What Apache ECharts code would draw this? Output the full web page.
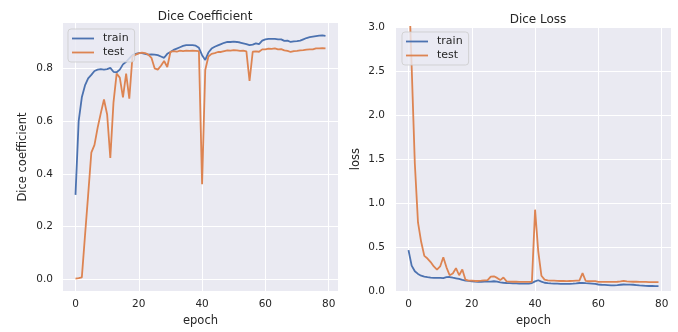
<!DOCTYPE html>
<html>
<head>
<meta charset="utf-8">
<script src="https://cdn.jsdelivr.net/npm/echarts@6/dist/echarts.min.js"></script>
<style>html,body{margin:0;padding:0;background:#fff}#c{width:678px;height:332px}</style>
</head>
<body>
<div id="c"></div>
<script>
// ---- data ----
const epochs = Array.from({length: 80}, (_, i) => i);
const xTicks = [0, 20, 40, 60, 80];
const diceTicks = [0, 0.2, 0.4, 0.6, 0.8];
const lossTicks = [0, 0.5, 1.0, 1.5, 2.0, 2.5, 3.0];
const seriesNames = ['train', 'test'];
const titles = ['Dice Coefficient', 'Dice Loss'];

const diceTrain = [0.32,0.60,0.69,0.735,0.762,0.775,0.79,0.795,0.797,0.795,
0.797,0.802,0.787,0.785,0.795,0.815,0.825,0.838,0.85,0.855,
0.858,0.858,0.855,0.852,0.853,0.852,0.85,0.845,0.84,0.855,
0.862,0.87,0.875,0.88,0.885,0.888,0.888,0.888,0.886,0.878,
0.85,0.832,0.86,0.875,0.882,0.887,0.892,0.897,0.9,0.9,
0.901,0.9,0.898,0.895,0.892,0.888,0.89,0.895,0.892,0.905,
0.91,0.912,0.912,0.912,0.91,0.91,0.904,0.905,0.9,0.902,
0.903,0.905,0.91,0.915,0.918,0.92,0.922,0.924,0.925,0.923];

const diceTest = [0.002,0.004,0.007,0.165,0.32,0.48,0.51,0.575,0.63,0.682,
0.625,0.46,0.67,0.78,0.765,0.69,0.78,0.685,0.845,0.852,
0.857,0.86,0.858,0.852,0.84,0.8,0.795,0.81,0.828,0.805,
0.862,0.865,0.863,0.867,0.865,0.867,0.866,0.867,0.866,0.865,
0.36,0.794,0.845,0.855,0.858,0.862,0.862,0.865,0.868,0.867,
0.869,0.868,0.866,0.867,0.864,0.752,0.863,0.864,0.863,0.872,
0.872,0.875,0.874,0.876,0.872,0.873,0.868,0.866,0.862,0.865,
0.866,0.868,0.869,0.871,0.872,0.872,0.876,0.876,0.877,0.876];

const lossTrain = [0.465,0.29,0.225,0.195,0.175,0.165,0.158,0.152,0.15,0.15,
0.15,0.148,0.158,0.16,0.152,0.145,0.138,0.128,0.12,0.115,
0.11,0.107,0.104,0.105,0.108,0.108,0.108,0.112,0.108,0.1,
0.095,0.092,0.09,0.088,0.087,0.086,0.086,0.085,0.086,0.092,
0.11,0.123,0.108,0.095,0.09,0.087,0.085,0.084,0.083,0.083,
0.082,0.083,0.085,0.088,0.092,0.094,0.09,0.088,0.086,0.082,
0.075,0.072,0.07,0.068,0.066,0.066,0.068,0.072,0.075,0.074,
0.073,0.072,0.068,0.064,0.062,0.06,0.058,0.058,0.057,0.057];

const lossTest = [3.6,2.55,1.45,0.78,0.56,0.4,0.37,0.33,0.28,0.245,
0.28,0.385,0.27,0.18,0.2,0.26,0.18,0.245,0.13,0.12,
0.118,0.115,0.115,0.118,0.122,0.125,0.165,0.168,0.15,0.125,
0.155,0.11,0.108,0.106,0.106,0.105,0.105,0.104,0.104,0.105,
0.925,0.45,0.175,0.13,0.122,0.12,0.118,0.116,0.115,0.115,
0.113,0.115,0.116,0.118,0.12,0.205,0.115,0.112,0.113,0.114,
0.105,0.104,0.104,0.105,0.104,0.104,0.106,0.11,0.115,0.11,
0.108,0.106,0.106,0.104,0.104,0.104,0.103,0.103,0.103,0.103];

// ---- styling ----
const FONT = 'DejaVu Sans';
const TXT = '#262626';
const BLUE = '#4C72B0', ORANGE = '#DD8452';
const LW = 1.8;
const pairs = (ys) => epochs.map((e, i) => [e, ys[i]]);

const grids = [
  {left: 63, right: 340, top: 23, bottom: 40},
  {left: 396, right: 7, top: 27, bottom: 37}
];

function xAxis(gi) {
  return {
    type: 'value', gridIndex: gi, min: -3.95, max: 82.95,
    name: 'epoch', nameLocation: 'middle', nameGap: 22,
    nameTextStyle: {fontFamily: FONT, fontSize: 11.5, color: TXT},
    axisLine: {show: false},
    axisTick: {show: false, customValues: xTicks},
    axisLabel: {customValues: xTicks, fontFamily: FONT, fontSize: 10.5, color: TXT, margin: 8},
    splitLine: {show: true, lineStyle: {color: '#ffffff', width: 1}}
  };
}

function legend(left, top) {
  return {
    data: seriesNames, orient: 'vertical', left: left, top: top, itemGap: 3,
    icon: 'rect', itemWidth: 22, itemHeight: 1.8, padding: [4, 6, 4, 4],
    backgroundColor: 'rgba(234,234,242,0.8)', borderColor: 'rgba(204,204,204,0.8)', borderWidth: 1, borderRadius: 3,
    textStyle: {fontFamily: FONT, fontSize: 11, color: TXT, padding: [0, 0, 0, 4]}
  };
}

const option = {
  animation: false,
  backgroundColor: '#ffffff',
  title: [
    {text: titles[0], left: 200, top: 6, textAlign: 'center',
     textStyle: {fontFamily: FONT, fontSize: 12, fontWeight: 'normal', color: TXT}},
    {text: titles[1], left: 533, top: 9, textAlign: 'center',
     textStyle: {fontFamily: FONT, fontSize: 12, fontWeight: 'normal', color: TXT}}
  ],
  grid: grids.map(g => Object.assign({show: true, backgroundColor: '#EAEAF2', borderWidth: 0}, g)),
  xAxis: [xAxis(0), xAxis(1)],
  yAxis: [
    {type: 'value', gridIndex: 0, min: -0.045, max: 0.972,
     name: 'Dice coefficient', nameLocation: 'middle', nameGap: 34,
     nameTextStyle: {fontFamily: FONT, fontSize: 11.5, color: TXT},
     axisLine: {show: false},
     axisTick: {show: false, customValues: diceTicks},
     axisLabel: {customValues: diceTicks, fontFamily: FONT, fontSize: 10.5, color: TXT, margin: 10,
       formatter: v => v.toFixed(1)},
     splitLine: {show: true, lineStyle: {color: '#ffffff', width: 1}}},
    {type: 'value', gridIndex: 1, min: 0, max: 3, interval: 0.5,
     name: 'loss', nameLocation: 'middle', nameGap: 34,
     nameTextStyle: {fontFamily: FONT, fontSize: 11.5, color: TXT},
     axisLine: {show: false},
     axisTick: {show: false},
     axisLabel: {fontFamily: FONT, fontSize: 10.5, color: TXT, margin: 11,
       formatter: v => v.toFixed(1)},
     splitLine: {show: true, lineStyle: {color: '#ffffff', width: 1}}}
  ],
  legend: [legend(68, 29), legend(402, 32)],
  series: [
    {name: seriesNames[0], type: 'line', xAxisIndex: 0, yAxisIndex: 0, data: pairs(diceTrain),
     symbol: 'none', lineStyle: {color: BLUE, width: LW}, itemStyle: {color: BLUE}, clip: true},
    {name: seriesNames[1], type: 'line', xAxisIndex: 0, yAxisIndex: 0, data: pairs(diceTest),
     symbol: 'none', lineStyle: {color: ORANGE, width: LW}, itemStyle: {color: ORANGE}, clip: true},
    {name: seriesNames[0], type: 'line', xAxisIndex: 1, yAxisIndex: 1, data: pairs(lossTrain),
     symbol: 'none', lineStyle: {color: BLUE, width: LW}, itemStyle: {color: BLUE}, clip: true},
    {name: seriesNames[1], type: 'line', xAxisIndex: 1, yAxisIndex: 1, data: pairs(lossTest),
     symbol: 'none', lineStyle: {color: ORANGE, width: LW}, itemStyle: {color: ORANGE}, clip: true}
  ]
};

const chart = echarts.init(document.getElementById('c'), null, {renderer: 'canvas'});
chart.setOption(option);
</script>
</body>
</html>
